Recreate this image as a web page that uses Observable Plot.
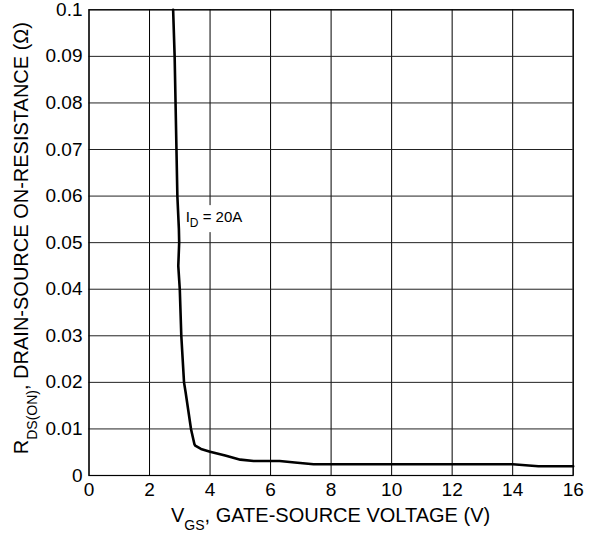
<!DOCTYPE html>
<html>
<head>
<meta charset="utf-8">
<script src="https://cdn.jsdelivr.net/npm/d3@7"></script>
<script src="https://cdn.jsdelivr.net/npm/@observablehq/plot@0.6"></script>
<style>
  html, body { margin: 0; padding: 0; background: #fff; }
</style>
</head>
<body>
<div id="chart"></div>
<script>
// Gate-source voltage (V)
const vgs = [2.78, 2.83, 2.86, 2.89, 2.92, 2.97, 2.98, 2.95, 3.0, 3.05, 3.14, 3.19, 3.28, 3.37, 3.48, 3.51, 3.7, 4.0, 4.5, 5.0, 5.44, 6.3, 6.8, 7.42, 10.0, 14.0, 14.85, 16.0];
// Drain-source on-resistance (ohm), ID = 20 A
const rds = [0.1, 0.09, 0.08, 0.07, 0.06, 0.053, 0.05, 0.045, 0.04, 0.03, 0.02, 0.018, 0.014, 0.01, 0.0068, 0.0064, 0.0057, 0.0051, 0.0043, 0.0034, 0.0031, 0.0031, 0.0028, 0.0024, 0.0024, 0.0024, 0.002, 0.002];

const xTicks = [0, 2, 4, 6, 8, 10, 12, 14, 16];
const yTicks = [0, 0.01, 0.02, 0.03, 0.04, 0.05, 0.06, 0.07, 0.08, 0.09, 0.1];
const yTickLabels = ["0", "0.01", "0.02", "0.03", "0.04", "0.05", "0.06", "0.07", "0.08", "0.09", "0.1"];

const annotation = {x: 3.21, y: 0.0543, main: "I", sub: "D", rest: " = 20A"};

const data = vgs.map((v, i) => ({v, r: rds[i]}));

const plot = Plot.plot({
  width: 593,
  height: 533,
  marginLeft: 88.5,
  marginRight: 20.3,
  marginTop: 9.3,
  marginBottom: 58,
  style: {fontFamily: "'Liberation Sans', Arial, sans-serif", fontSize: "19px", color: "#000", background: "#fff"},
  x: {domain: [0, 16]},
  y: {domain: [0, 0.1]},
  marks: [
    Plot.gridX(xTicks, {stroke: "#000", strokeOpacity: 1, strokeWidth: 1}),
    Plot.gridY(yTicks, {stroke: "#222", strokeOpacity: 1, strokeWidth: 1}),
    Plot.frame({stroke: "#000", strokeWidth: 1.2}),
    Plot.line(data, {x: "v", y: "r", stroke: "#000", strokeWidth: 2.6, curve: "linear"}),
    Plot.axisX(xTicks, {tickSize: 0, tickPadding: 7, label: null, fontSize: 19}),
    Plot.axisY(yTicks, {tickSize: 0, tickPadding: 6.5, label: null, fontSize: 19, tickFormat: (d) => yTickLabels[yTicks.indexOf(d)]})
  ]
});

document.getElementById("chart").appendChild(plot);

const svg = d3.select(plot);
const sx = plot.scale("x"), sy = plot.scale("y");
const font = "'Liberation Sans', Arial, sans-serif";

// Annotation with white background
const ax = sx.apply(annotation.x), ay = sy.apply(annotation.y);
const g = svg.append("g");
g.append("rect").attr("x", ax - 3).attr("y", ay - 17).attr("width", 63).attr("height", 27).attr("fill", "#fff");
const at = g.append("text").attr("x", ax).attr("y", ay).attr("text-anchor", "start")
  .attr("font-family", font).attr("font-size", 15).attr("fill", "#000");
at.append("tspan").text(annotation.main);
at.append("tspan").attr("font-size", 12).attr("dy", 5).text(annotation.sub);
at.append("tspan").attr("dy", -5).text(annotation.rest);

// X axis label
const cx = (sx.range[0] + sx.range[1]) / 2;
const xl = svg.append("text").attr("x", cx).attr("y", 522).attr("text-anchor", "middle")
  .attr("font-family", font).attr("font-size", 20).attr("fill", "#000");
xl.append("tspan").text("V");
xl.append("tspan").attr("font-size", 14).attr("dy", 8).text("GS");
xl.append("tspan").attr("dy", -8).text(", GATE-SOURCE VOLTAGE (V)");

// Y axis label
const cy = (sy.range[0] + sy.range[1]) / 2;
const yl = svg.append("text").attr("transform", `translate(28,${cy - 4}) rotate(-90)`).attr("text-anchor", "middle")
  .attr("font-family", font).attr("font-size", 20).attr("fill", "#000");
yl.append("tspan").text("R");
yl.append("tspan").attr("font-size", 14).attr("dy", 9).text("DS(ON)");
yl.append("tspan").attr("dy", -9).text(", DRAIN-SOURCE ON-RESISTANCE (Ω)");
</script>
</body>
</html>
